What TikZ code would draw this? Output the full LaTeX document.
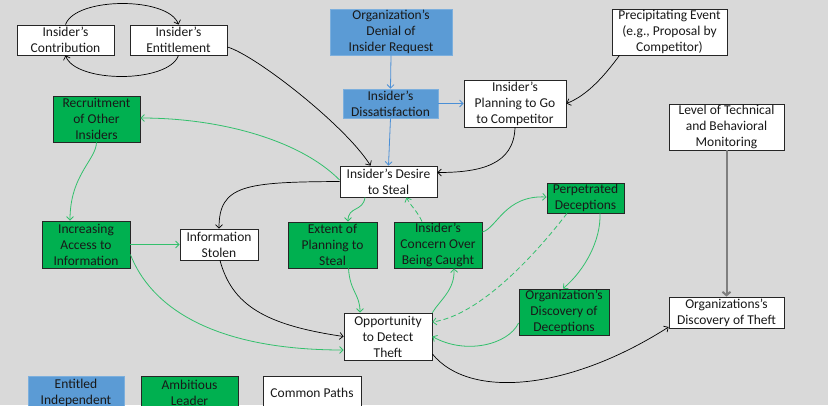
\documentclass[tikz,border=0pt]{standalone}
\usepackage{fontspec}
\setmainfont{Carlito}
\usetikzlibrary{arrows.meta}
\definecolor{bg}{HTML}{D9D9D9}
\definecolor{bluefill}{HTML}{5B9BD5}
\definecolor{blueline}{HTML}{4A8FD6}
\definecolor{greenfill}{HTML}{00B050}
\definecolor{greenline}{HTML}{33C06C}
\definecolor{grayline}{HTML}{7F7F7F}
\begin{document}
\begin{tikzpicture}[x=1pt,y=1pt,
 box/.style={draw=black!85, line width=0.8pt, align=center, inner sep=0pt, font=\fontsize{13.5}{16}\selectfont, text=black!90},
 whitebox/.style={box, fill=white},
 greenbox/.style={box, fill=greenfill},
 bluebox/.style={box, fill=bluefill, draw=bluefill!80!white},
 sz/.style 2 args={minimum width=#1pt, minimum height=#2pt},
 tip/.style={-{Straight Barb[length=3.5pt,width=7pt]}},
 blk/.style={tip, draw=black, line width=0.7pt},
 grn/.style={tip, draw=greenline, line width=0.8pt},
 blu/.style={tip, draw=blueline, line width=0.8pt},
 gry/.style={-{Straight Barb[length=3.5pt,width=8pt]}, draw=grayline, line width=2pt},
]
\clip (0,0) rectangle (828,-405);
\fill[bg] (0,0) rectangle (828,-405);

% nodes
\node[whitebox, sz={97}{30}] (contrib) at (65.5,-40) {Insider’s\\Contribution};
\node[whitebox, sz={97}{30}] (entitle) at (178.5,-40) {Insider’s\\Entitlement};
\node[bluebox, sz={122}{46}] (denial) at (391,-32) {Organization’s\\Denial of\\Insider Request};
\node[bluebox, sz={95}{29}] (dissat) at (390.5,-103.5) {Insider’s\\Dissatisfaction};
\node[whitebox, sz={102}{47}] (planning) at (515,-103.5) {Insider’s\\Planning to Go\\to Competitor};
\node[whitebox, sz={115}{46}] (precip) at (669.5,-32) {Precipitating Event\\(e.g., Proposal by\\Competitor)};
\node[whitebox, sz={115}{46}] (level) at (726.5,-127) {Level of Technical\\and Behavioral\\Monitoring};
\node[greenbox, sz={87}{46}] (recruit) at (96.5,-119) {Recruitment\\of Other\\Insiders};
\node[whitebox, sz={97}{31}] (desire) at (388.5,-181.5) {Insider’s Desire\\to Steal};
\node[greenbox, sz={88}{47}] (access) at (86,-244.5) {Increasing\\Access to\\Information};
\node[whitebox, sz={78}{31}] (stolen) at (219,-244.5) {Information\\Stolen};
\node[greenbox, sz={89}{46}] (extent) at (332.5,-245) {Extent of\\Planning to\\Steal};
\node[greenbox, sz={88}{46}] (concern) at (438,-245) {Insider’s\\Concern Over\\Being Caught};
\node[greenbox, sz={77}{30}] (perp) at (585.5,-198) {Perpetrated\\Deceptions};
\node[greenbox, sz={90}{46}] (orgdec) at (564,-312) {Organization’s\\Discovery of\\Deceptions};
\node[whitebox, sz={88}{47}] (opp) at (388,-336.5) {Opportunity\\to Detect\\Theft};
\node[whitebox, sz={115}{31}] (theft) at (726.5,-312.5) {Organizations’s\\Discovery of Theft};
\node[bluebox, sz={96}{34}] (legb) at (76,-393) {Entitled\\Independent};
\node[greenbox, sz={97}{34}] (legg) at (189.5,-393) {Ambitious\\Leader};
\node[whitebox, sz={98}{34}] (legw) at (312,-393) {Common Paths};

% black connectors
\draw[blk] (contrib.north) .. controls +(10,28) and +(-10,28) .. (entitle.north);
\draw[blk] (entitle.south) .. controls +(-10,-28) and +(10,-28) .. (contrib.south);
\draw[blk] ([yshift=-7pt]entitle.east) .. controls (255,-55) and (345,-125) .. ([xshift=-18pt]desire.north);
\draw[blk] ([xshift=-50pt]precip.south) .. controls (605,-75) and (588,-95) .. (planning.east);
\draw[blk] (planning.south) .. controls (514,-165) and (480,-172.5) .. ([yshift=9pt]desire.east);
\draw[blk] (desire.west) .. controls (245,-182) and (219,-185) .. (stolen.north);
\draw[blk] ([xshift=1pt]stolen.south) .. controls (232,-305) and (265,-325) .. (opp.west);
\draw[blk] ([yshift=-17.5pt]opp.east) .. controls (470,-400) and (570,-390) .. ([yshift=-14.5pt]theft.west);
\draw[gry] (level.south) -- (theft.north);

% blue connectors
\draw[blu] (denial.south) -- (dissat.north);
\draw[blu] (dissat.east) -- (planning.west);
\draw[blu] (dissat.south) -- (desire.north);

% green connectors
\draw[grn] ([yshift=1.5pt]desire.west) .. controls (300,-140) and (220,-118) .. ([yshift=1pt]recruit.east);
\draw[grn] (recruit.south) .. controls (96,-160) and (70,-175) .. ([xshift=-16pt]access.north);
\draw[grn] (access.east) -- (stolen.west);
\draw[grn] ([yshift=-10pt]access.east) .. controls (150,-305) and (210,-350) .. ([yshift=-13.5pt]opp.west);
\draw[grn] ([xshift=-23.5pt]desire.south) .. controls (363,-212) and (348,-206) .. ([xshift=15.5pt]extent.north);
\draw[grn] ([xshift=16pt]extent.south) .. controls (350,-292) and (360,-294) .. ([xshift=-28pt]opp.north);
\draw[grn, dashed, dash pattern=on 5pt off 3pt] ([xshift=-16pt]concern.north) .. controls (418,-212) and (410,-205) .. ([xshift=18pt]desire.south);
\draw[grn] (opp.north east) .. controls (440,-300) and (455,-290) .. ([xshift=16pt]concern.south);
\draw[grn] ([yshift=13pt]concern.east) .. controls (497,-228) and (505,-195) .. ([yshift=1pt]perp.west);
\draw[grn, dashed, dash pattern=on 5pt off 3pt] ([xshift=-18.5pt]perp.south) .. controls (535,-255) and (480,-315) .. ([yshift=14.5pt]opp.east);
\draw[grn] ([xshift=14.5pt]perp.south) .. controls (601,-240) and (585,-270) .. ([xshift=-1pt]orgdec.north);
\draw[grn] ([yshift=-11pt]orgdec.west) .. controls (508,-345) and (465,-355) .. (opp.east);
\end{tikzpicture}
\end{document}
